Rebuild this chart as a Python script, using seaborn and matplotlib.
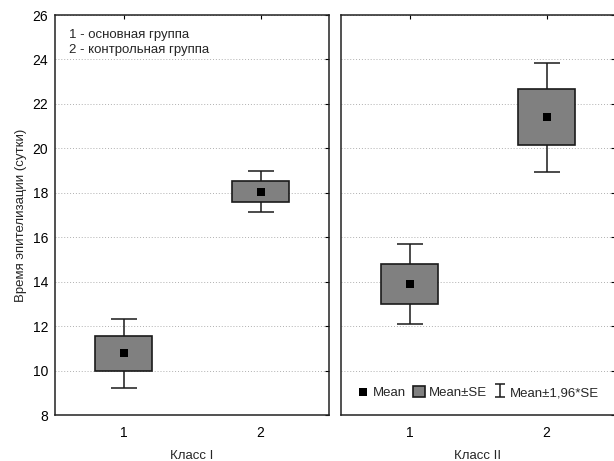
import matplotlib
matplotlib.use("Agg")
import numpy as np
import pandas as pd
import seaborn as sns
from matplotlib import pyplot as plt

# values
groups = [1, 2]
panel_titles = ["Класс I", "Класс II"]
means_class1 = [10.78, 18.05]
se_class1 = [0.79, 0.47]
means_class2 = [13.9, 21.4]
se_class2 = [0.91, 1.25]
y_ticks = [8, 10, 12, 14, 16, 18, 20, 22, 24, 26]

FONT = ["Liberation Sans", "DejaVu Sans"]
EDGE = "#1a1a1a"


def draw_panel(ax, means, ses, xlabel):
    df = pd.DataFrame({"group": groups, "mean": means, "se": ses})
    se = df["se"].to_numpy()
    m = df["mean"].to_numpy()

    ax.bar(df["group"], 2 * se, bottom=m - se, width=0.41, color="#808080",
           edgecolor=EDGE, linewidth=1.2, zorder=2, label="Mean±SE")
    ax.errorbar(df["group"], m, yerr=1.96 * se, fmt="none", ecolor=EDGE,
                elinewidth=1.1, capsize=9.7, capthick=1.1, zorder=1)
    sns.scatterplot(data=df, x="group", y="mean", marker="s", s=30, color="black",
                    edgecolor="black", linewidth=0, zorder=3, ax=ax, label="Mean")

    ax.set_xlim(0.5, 2.5)
    ax.set_ylim(8, 26)
    ax.set_xticks(groups)
    ax.set_yticks(y_ticks)
    ax.yaxis.grid(True, linestyle=(0, (1, 2)), color="#b0b0b0", linewidth=0.7, zorder=0)
    ax.xaxis.grid(False)
    ax.tick_params(direction="in", top=True, right=True, length=3, width=0.8,
                   labelsize=10, colors="black")
    ax.tick_params(axis="x", pad=8)
    ax.tick_params(axis="y", pad=5)
    for s in ax.spines.values():
        s.set_color("#222222")
        s.set_linewidth(1.1)
    ax.set_xlabel(xlabel, fontsize=9.5, labelpad=7)
    ax.set_ylabel("")


def main():
    sns.set_style("white")
    plt.rcParams["font.family"] = FONT

    fig = plt.figure(figsize=(6.14, 4.61), dpi=100)
    ax1 = fig.add_axes([55 / 614, 46 / 461, 274 / 614, 400 / 461])
    ax2 = fig.add_axes([341 / 614, 46 / 461, 274 / 614, 400 / 461])

    draw_panel(ax1, means_class1, se_class1, panel_titles[0])
    draw_panel(ax2, means_class2, se_class2, panel_titles[1])
    ax1.get_legend().remove()
    ax2.tick_params(labelleft=False)

    ax1.set_ylabel("Время эпителизации (сутки)", fontsize=9.5, labelpad=4)

    ax1.text(0.05, 0.965, "1 - основная группа\n2 - контрольная группа",
             transform=ax1.transAxes, ha="left", va="top", fontsize=9.5,
             linespacing=1.35)

    # small proxy errorbar so the legend shows a narrow I-beam
    ax2.errorbar([np.nan], [np.nan], yerr=[1], fmt="none", ecolor=EDGE,
                 elinewidth=1.1, capsize=3.5, capthick=1.1,
                 label="Mean±1,96*SE")

    handles, labels = ax2.get_legend_handles_labels()
    hmap = dict(zip(labels, handles))
    names = ["Mean", "Mean±SE", "Mean±1,96*SE"]
    ax2.legend([hmap[k] for k in names], names,
               loc="lower center", bbox_to_anchor=(0.5, 0.02), ncol=3,
               frameon=False, fontsize=9.5, handlelength=0.9, handleheight=1.0,
               handletextpad=0.3, columnspacing=0.5, borderaxespad=0.2)

    fig.savefig("out.png", dpi=100)
    plt.close(fig)


if __name__ == "__main__":

    main()
